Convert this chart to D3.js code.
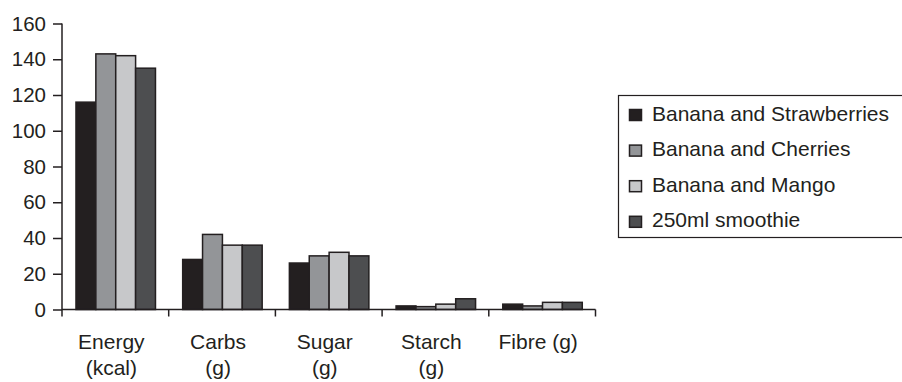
<!DOCTYPE html>
<html>
<head>
<meta charset="utf-8">
<script src="https://cdn.jsdelivr.net/npm/d3@7"></script>
<style>
html,body{margin:0;padding:0;background:#fff;}
svg{display:block;font-family:"Liberation Sans",Arial,sans-serif;}
</style>
</head>
<body>
<svg id="chart" width="902" height="382"></svg>
<script>
const categories = [["Energy","(kcal)"],["Carbs","(g)"],["Sugar","(g)"],["Starch","(g)"],["Fibre (g)"]];
const seriesNames = ["Banana and Strawberries","Banana and Cherries","Banana and Mango","250ml smoothie"];
const bananaStrawberries = [116, 28, 26, 2, 3];
const bananaCherries = [143, 42, 30, 1.6, 2];
const bananaMango = [142, 36, 32, 3, 4];
const smoothie250 = [135, 36, 30, 6, 4];
const yTicks = [0, 20, 40, 60, 80, 100, 120, 140, 160];
const colors = ["#231f20", "#939598", "#c7c8ca", "#4d4e50"];

const seriesValues = [bananaStrawberries, bananaCherries, bananaMango, smoothie250];
const svg = d3.select("#chart");
const ink = "#231f20";

const catKeys = categories.map((c, i) => i);
const x = d3.scaleBand().domain(catKeys).range([62, 595.5]).paddingInner(0).paddingOuter(0);
const bw = x.bandwidth();
const x1 = d3.scaleBand().domain(d3.range(seriesNames.length)).range([bw * 0.131, bw * 0.876]);
const y = d3.scaleLinear().domain([0, 160]).range([309.5, 23.5]);

// bars
const groups = svg.append("g").selectAll("g").data(catKeys).join("g")
  .attr("transform", d => `translate(${x(d)},0)`);
groups.selectAll("rect")
  .data(ci => seriesValues.map((vals, si) => ({si, v: vals[ci]})))
  .join("rect")
  .attr("x", d => x1(d.si))
  .attr("width", x1.bandwidth())
  .attr("y", d => y(d.v))
  .attr("height", d => y(0) - y(d.v))
  .attr("fill", d => colors[d.si])
  .attr("stroke", ink)
  .attr("stroke-width", 1.5);

// y axis
const yAxis = d3.axisLeft(y).tickValues(yTicks).tickSize(9).tickPadding(7).tickSizeOuter(0);
const gy = svg.append("g").attr("transform", "translate(62,0)").call(yAxis);
gy.select(".domain").remove();
gy.append("line").attr("x1", 0).attr("x2", 0).attr("y1", y(160)).attr("y2", y(0) + 7)
  .attr("stroke", ink).attr("stroke-width", 1.5);
gy.selectAll(".tick line").attr("stroke", ink).attr("stroke-width", 1.5);
gy.selectAll(".tick text").attr("fill", ink).style("font-size", "20.5px")
  .style("font-family", "'Liberation Sans', Arial, sans-serif");

// x axis
const gx = svg.append("g");
gx.append("line").attr("x1", 62).attr("x2", x.range()[1]).attr("y1", y(0)).attr("y2", y(0))
  .attr("stroke", ink).attr("stroke-width", 1.5);
const boundaries = catKeys.map(d => x(d)).concat([x.range()[1]]);
gx.selectAll("line.tk").data(boundaries.slice(1)).join("line").attr("class", "tk")
  .attr("x1", d => d).attr("x2", d => d).attr("y1", y(0)).attr("y2", y(0) + 7)
  .attr("stroke", ink).attr("stroke-width", 1.5);
const labels = gx.selectAll("text.cat").data(catKeys).join("text").attr("class", "cat")
  .attr("text-anchor", "middle").attr("fill", ink).style("font-size", "21px");
labels.each(function(d) {
  const t = d3.select(this);
  categories[d].forEach((line, li) => {
    t.append("tspan").attr("x", x(d) + bw / 2 - 4).attr("y", 348.5 + li * 26).text(line);
  });
});

// legend
const lg = svg.append("g");
lg.append("rect").attr("x", 618.5).attr("y", 95.5).attr("width", 300).attr("height", 142)
  .attr("fill", "#fff").attr("stroke", ink).attr("stroke-width", 1.2);
const items = lg.selectAll("g.item").data(seriesNames).join("g").attr("class", "item")
  .attr("transform", (d, i) => `translate(0,${120.5 + i * 35.6})`);
items.append("rect").attr("x", 629.5).attr("y", -11).attr("width", 12).attr("height", 11)
  .attr("fill", (d, i) => colors[i]).attr("stroke", ink).attr("stroke-width", 1.5);
items.append("text").attr("x", 652).attr("y", 0).attr("fill", ink).style("font-size", "21px")
  .text(d => d);
</script>
</body>
</html>
